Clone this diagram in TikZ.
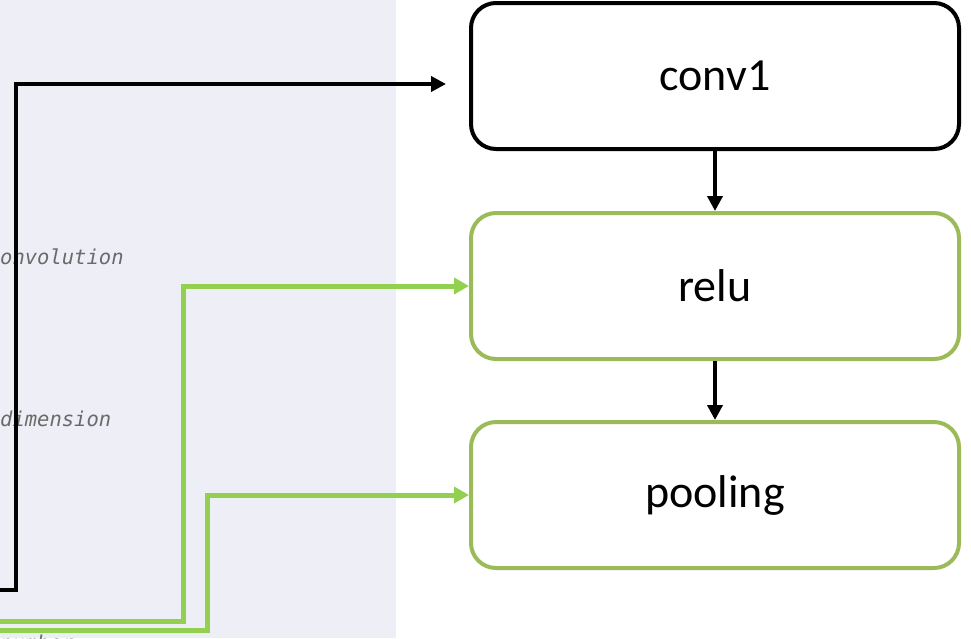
\documentclass[tikz,border=0pt]{standalone}
\usepackage{fontspec}
\setmainfont{Carlito}
\newfontfamily\codefont{DejaVu Sans Mono}
\usetikzlibrary{arrows.meta}
\definecolor{panelbg}{HTML}{EEEEF7}
\definecolor{boxgreen}{HTML}{9BBB59}
\definecolor{linegreen}{HTML}{92D050}
\definecolor{codegray}{HTML}{6A6A6A}
\begin{document}
\begin{tikzpicture}[
    x=1pt, y=-1pt,
    layerbox/.style={rectangle, draw=black, line width=4pt, fill=white, rounded corners=25pt, minimum width=488pt, minimum height=146pt, font=\fontsize{46}{50}\selectfont, text centered},
    greenbox/.style={layerbox, draw=boxgreen},
    codetext/.style={anchor=west, inner sep=0pt, text=codegray, font=\codefont\itshape\fontsize{20.5}{24}\selectfont},
    blackarrow/.style={-{Triangle[length=15pt,width=15pt]}, line width=4pt},
    greenarrow/.style={-{Triangle[length=15pt,width=16pt]}, line width=5pt, draw=linegreen}
]
    \clip (0,0) rectangle (971,638);
    \fill[panelbg] (0,0) rectangle (396,638);

    \node[codetext] (txtconv) at (0,257) {onvolution};
    \node[codetext] (txtdim) at (0,419) {dimension};
    \node[codetext] (txtnum) at (0,643) {number};

    \node[layerbox] (conv1) at (715,76) {conv1};
    \node[greenbox] (relu) at (715,286) {relu};
    \node[greenbox] (pooling) at (715,495) {pooling};

    \coordinate (blackin) at (0,590);
    \coordinate (blackend) at (446,84);
    \coordinate (reluin) at (0,621);
    \coordinate (poolin) at (0,630);

    \draw[blackarrow] (blackin) -| (16,84) -- (blackend);
    \draw[greenarrow] (reluin) -| (183,286) -- (relu.west);
    \draw[greenarrow] (poolin) -| (207,495) -- (pooling.west);

    \draw[blackarrow] (conv1) -- (relu);
    \draw[blackarrow] (relu) -- (pooling);
\end{tikzpicture}
\end{document}
